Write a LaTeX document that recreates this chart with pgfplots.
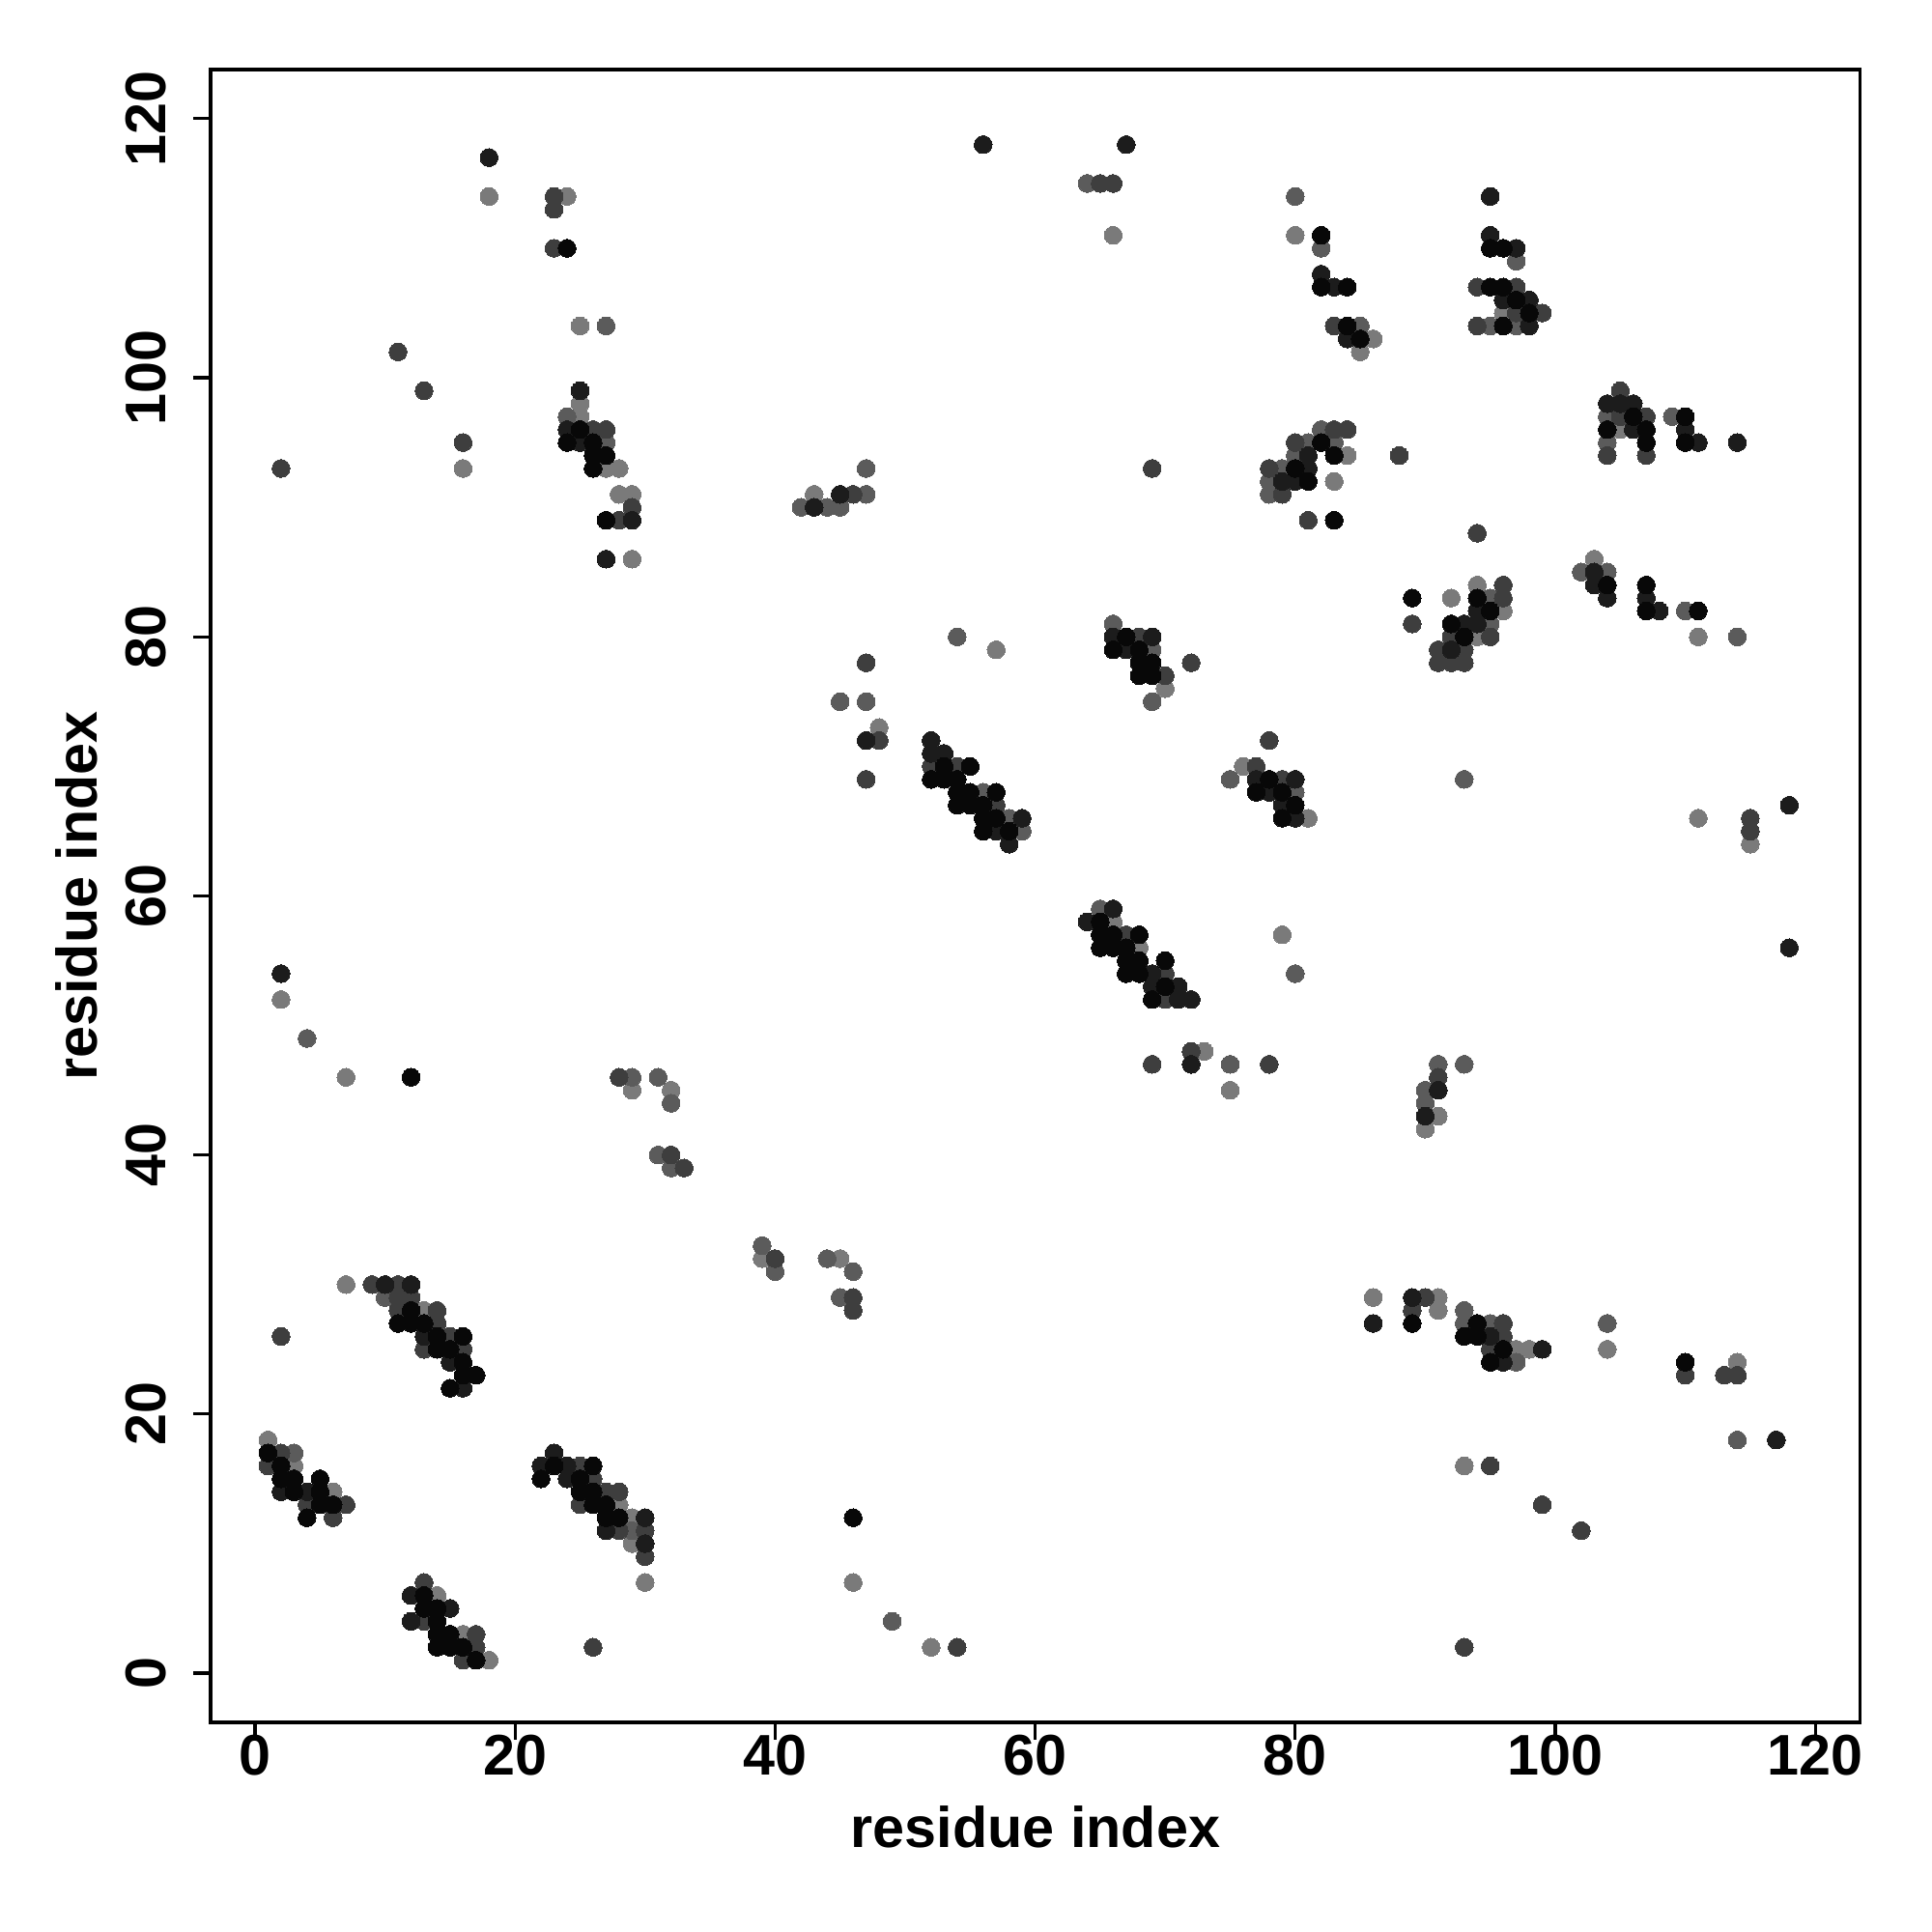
\documentclass[border=0pt]{standalone}
\usepackage{pgfplots}
\pgfplotsset{compat=1.18}
\usepackage{graphicx}
\usepackage{fontspec}
\setmainfont{Liberation Sans}
\definecolor{cK}{HTML}{080808}
\definecolor{cN}{HTML}{1C1C1C}
\definecolor{cD}{HTML}{3E3E3E}
\definecolor{cM}{HTML}{5B5B5B}
\definecolor{cL}{HTML}{7A7A7A}
\begin{document}
\begin{tikzpicture}
\begin{axis}[
  name=ax,
  scale only axis, width=432.1pt, height=432.9pt,
  xmin=-3.42, xmax=123.47, ymin=-3.80, ymax=123.8,
  axis line style={line width=0.8pt},
  xtick={0,20,...,120}, ytick={0,20,...,120},
  xtick pos=bottom, ytick pos=left,
  tick align=outside, major tick length=4.5pt,
  tick style={line width=0.8pt, black},
  /pgf/number format/assume math mode=true,
  ticklabel style={font=\bfseries\fontsize{15}{18}\selectfont},
  xticklabel style={inner sep=0pt, anchor=north, yshift=1.5pt},
  yticklabel={\rotatebox{90}{\pgfmathprintnumber{\tick}}},
  yticklabel style={inner sep=0pt, anchor=east, xshift=-6.8pt},
  every axis x label/.style={at={(axis description cs:0.5,-0.0503)}, anchor=north, inner sep=0pt, font=\bfseries\fontsize{15}{18}\selectfont},
  every axis y label/.style={at={(axis description cs:-0.0679,0.5)}, rotate=90, anchor=south, inner sep=0pt, font=\bfseries\fontsize{15}{18}\selectfont},
  xlabel={residue index}, ylabel={residue index},
  clip=false,
]
% light gray
\addplot[only marks, mark=*, mark size=2.34pt, mark options={fill=cL, draw=cL, line width=0pt}] coordinates {
(18,114)(24,114)(25,104)(16,93)(25,98)(25,97)(27,93)(28,93)(28,91)(29,91)(29,86)
(66,111)(80,111)(43,91)(84,94)(83,92)(86,103)(85,102)(96,105)(105,96)
(103,86)(111,80)(92,83)(94,84)(96,82)(94,80)(111,66)(115,64)
(57,79)(48,73)(70,76)(76,70)(81,66)(66,58)(68,56)(73,48)(75,45)(79,57)
(91,43)(90,42)(2,52)(7,46)(29,45)(32,45)(39,32)(45,32)
(7,30)(13,28)(1,18)(3,16)(6,14)(28,13)(29,12)(29,10)(30,7)(14,6)(16,3)(18,1)
(46,7)(52,2)(86,29)(91,29)(91,28)(97,25)(98,25)(104,25)(114,24)(93,16)
};
% medium gray
\addplot[only marks, mark=*, mark size=2.34pt, mark options={fill=cM, draw=cM, line width=0pt}] coordinates {
(27,104)(24,97)(27,95)(64,115)(80,114)(47,93)(47,91)(42,90)(44,90)(45,90)
(82,96)(81,95)(83,95)(80,94)(79,93)(78,92)(78,91)
(82,110)(85,104)(97,109)(95,104)(97,104)(104,97)(109,97)(104,95)
(102,85)(104,85)(110,82)(114,80)(95,83)(95,81)(93,69)
(54,80)(45,75)(47,75)(56,68)(58,66)(59,65)(66,81)(69,79)(69,75)(75,69)(80,68)
(65,59)(75,47)(80,54)(91,47)(93,47)(90,45)(90,44)
(4,49)(29,46)(31,46)(32,44)(31,40)(32,39)(39,33)(40,31)(44,32)(46,31)(45,29)
(10,29)(3,17)(29,11)(49,4)(93,28)(93,27)(95,27)(97,24)(104,27)(114,18)
};
% dark gray
\addplot[only marks, mark=*, mark size=2.34pt, mark options={fill=cD, draw=cD, line width=0pt}] coordinates {
(23,114)(23,113)(23,110)(11,102)(13,99)(16,95)(2,93)(26,96)(27,96)(29,90)(28,89)
(65,115)(66,115)(69,93)(46,91)(83,96)(84,96)(80,95)(88,94)(78,93)(79,91)(81,89)
(83,104)(94,107)(97,107)(97,105)(99,105)(94,104)(105,99)(105,97)(107,97)(104,94)(107,94)
(94,88)(89,81)(96,84)(96,83)(92,80)(95,80)(91,79)(93,79)(91,78)(92,78)(93,78)
(115,66)(115,65)
(47,78)(48,72)(47,69)(52,70)(54,70)(57,67)(68,80)(72,78)(70,77)(78,72)(77,70)(79,69)
(67,57)(70,54)(70,52)(72,48)(69,47)(78,47)(91,46)
(28,46)(32,40)(33,39)(40,32)(46,29)(46,28)
(9,30)(11,30)(11,29)(12,29)(11,28)(14,28)(14,27)(15,26)(13,25)(16,25)(2,26)
(2,17)(1,16)(4,13)(7,13)(6,12)
(25,16)(26,15)(27,14)(28,14)(25,13)(28,11)(30,11)(30,9)(26,2)
(13,7)(13,4)(17,3)(17,2)(16,1)(54,2)
(90,29)(89,28)(96,27)(96,26)(95,25)(110,23)(113,23)(114,23)(95,16)(99,13)(102,11)(93,2)
};
% near black
\addplot[only marks, mark=*, mark size=2.34pt, mark options={fill=cN, draw=cN, line width=0pt}] coordinates {
(18,117)(25,99)(24,96)(25,95)(29,89)(27,86)
(56,118)(67,118)(45,91)(43,90)(81,94)(81,93)(79,92)(80,92)
(82,108)(83,107)(84,103)(95,114)(95,111)(97,110)(96,106)(98,106)(98,104)
(104,98)(105,98)(106,98)(106,96)(110,96)(111,95)(114,95)
(103,85)(103,84)(104,83)(107,83)(108,82)(94,82)(93,81)(94,81)(92,79)(118,67)
(47,72)(52,72)(52,71)(53,71)(59,66)(57,65)(58,64)
(66,80)(69,80)(67,79)(77,69)(80,69)(78,68)(79,67)(80,66)
(66,59)(64,58)(69,54)(69,53)(71,53)(71,52)(72,52)(72,47)(91,45)(90,43)(118,56)
(2,54)(10,30)(12,30)(13,26)(15,24)(16,22)
(2,14)(4,14)
(23,17)(22,16)(24,16)(24,15)(27,11)(30,12)(30,10)
(12,6)(15,5)(12,4)
(86,27)(89,29)(95,26)(99,25)(96,24)(117,18)
};
% black
\addplot[only marks, mark=*, mark size=2.34pt, mark options={fill=cK, draw=cK, line width=0pt}] coordinates {
(24,110)(25,96)(24,95)(26,95)(26,94)(27,94)(26,93)(27,89)
(82,95)(83,94)(80,93)(81,92)(83,89)
(82,111)(82,107)(84,107)(84,104)(85,103)(95,110)(96,110)(95,107)(96,107)(97,106)(98,105)(96,104)
(106,97)(110,97)(104,96)(107,96)(107,95)(110,95)
(104,84)(107,84)(107,82)(111,82)(89,83)(94,83)(95,82)(92,81)(93,80)
(53,70)(55,70)(52,69)(53,69)(54,69)(54,68)(55,68)(57,68)(54,67)(55,67)(56,67)
(56,66)(57,66)(56,65)(58,65)
(67,80)(66,79)(68,79)(68,78)(69,78)(68,77)(69,77)
(78,69)(77,68)(79,68)(80,67)(79,66)
(65,58)(65,57)(66,57)(68,57)(65,56)(66,56)(67,56)(67,55)(68,55)(70,55)(67,54)(68,54)
(70,53)(69,52)
(12,46)
(12,28)(11,27)(12,27)(13,27)(14,26)(16,26)(14,25)(15,25)(16,24)(16,23)(17,23)(15,22)
(1,17)(2,16)(2,15)(3,15)(5,15)(3,14)(5,14)(5,13)(6,13)(4,12)
(23,16)(26,16)(22,15)(25,15)(25,14)(26,14)(26,13)(27,13)(27,12)(28,12)
(13,6)(13,5)(14,5)(14,4)(14,3)(15,3)(14,2)(15,2)(16,2)(17,1)
(46,12)
(89,27)(94,27)(93,26)(94,26)(96,25)(95,24)(110,24)
};
\end{axis}
\path ([xshift=-55.15pt,yshift=-54.9pt]ax.south west) rectangle ([xshift=18.72pt,yshift=18.2pt]ax.north east);
\end{tikzpicture}
\end{document}
